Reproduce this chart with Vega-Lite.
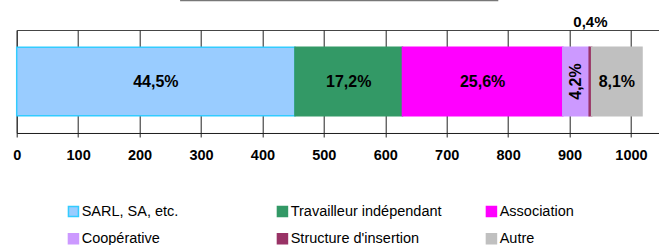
{
  "$schema": "https://vega.github.io/schema/vega-lite/v6.json",
  "width": 645,
  "height": 103,
  "autosize": {"type": "none"},
  "padding": {"left": 16.7, "top": 30, "right": 0, "bottom": 112},
  "background": "white",
  "config": {"view": {"stroke": "#444", "strokeWidth": 1}, "font": "Liberation Sans"},
  "data": {"values": [
    {"cat": "SARL, SA, etc.", "n": 453, "label": "44,5%", "ord": 1},
    {"cat": "Travailleur indépendant", "n": 175, "label": "17,2%", "ord": 2},
    {"cat": "Association", "n": 261, "label": "25,6%", "ord": 3},
    {"cat": "Coopérative", "n": 43, "label": "4,2%", "ord": 4},
    {"cat": "Structure d'insertion", "n": 4, "label": "0,4%", "ord": 5},
    {"cat": "Autre", "n": 82, "label": "8,1%", "ord": 6}
  ]},
  "resolve": {"scale": {"y": "independent"}},
  "layer": [
    {
      "transform": [
        {"stack": "n", "groupby": [], "sort": [{"field": "ord", "order": "ascending"}], "as": ["x0", "x1"]},
        {"calculate": "(datum.x0 + datum.x1) / 2", "as": "xm"},
        {"calculate": "'all'", "as": "row"}
      ],
      "layer": [
        {
          "mark": {"type": "bar", "strokeWidth": 1.5},
          "encoding": {
            "x": {
              "field": "x0", "type": "quantitative",
              "scale": {"domain": [0, 1050], "nice": false, "zero": true},
              "axis": {
                "values": [0, 50, 100, 150, 200, 250, 300, 350, 400, 450, 500, 550, 600, 650, 700, 750, 800, 850, 900, 950, 1000, 1050],
                "grid": true,
                "gridColor": {"condition": {"test": "datum.value % 100 === 0", "value": "#222"}, "value": "#cccccc"},
                "gridWidth": 1,
                "labelExpr": "datum.value % 100 === 0 ? datum.label : ''",
                "format": "d",
                "labelFont": "Liberation Sans",
                "labelFontWeight": "bold",
                "labelFontSize": 14.5,
                "labelColor": "#000",
                "labelFlush": false,
                "labelOverlap": false,
                "labelPadding": 12,
                "tickColor": "#222",
                "tickSize": 4,
                "domainColor": "#222",
                "title": null
              }
            },
            "x2": {"field": "x1"},
            "y": {"field": "row", "type": "nominal", "axis": null, "scale": {"paddingOuter": 0.25, "paddingInner": 0}},
            "fill": {
              "field": "cat", "type": "nominal",
              "scale": {
                "domain": ["SARL, SA, etc.", "Travailleur indépendant", "Association", "Coopérative", "Structure d'insertion", "Autre"],
                "range": ["#99CCFF", "#339966", "#FF00FF", "#CC99FF", "#993366", "#C0C0C0"]
              },
              "legend": {
                "orient": "none", "legendX": 49.5, "legendY": 174, "direction": "horizontal", "columns": 3,
                "title": null, "symbolType": "square", "symbolSize": 100, "symbolStrokeWidth": 1.5,
                "labelFontSize": 14.5, "labelFont": "Liberation Sans", "labelColor": "#000", "labelOffset": 1,
                "columnPadding": 41, "rowPadding": 10.5, "gridAlign": "all", "labelLimit": 300
              }
            },
            "stroke": {
              "field": "cat", "type": "nominal",
              "scale": {
                "domain": ["SARL, SA, etc.", "Travailleur indépendant", "Association", "Coopérative", "Structure d'insertion", "Autre"],
                "range": ["#33CCFF", "#339966", "#FF00FF", "#CC99FF", "#993366", "#C0C0C0"]
              },
              "legend": {
                "orient": "none", "legendX": 49.5, "legendY": 174, "direction": "horizontal", "columns": 3,
                "title": null, "symbolType": "square", "symbolSize": 100, "symbolStrokeWidth": 1.5,
                "labelFontSize": 14.5, "labelFont": "Liberation Sans", "labelColor": "#000", "labelOffset": 1,
                "columnPadding": 41, "rowPadding": 10.5, "gridAlign": "all", "labelLimit": 300
              }
            }
          }
        },
        {
          "transform": [{"filter": "datum.cat !== 'Coopérative' && datum.cat !== \"Structure d'insertion\""}],
          "mark": {"type": "text", "fontWeight": "bold", "fontSize": 16, "color": "#000", "font": "Liberation Sans"},
          "encoding": {
            "x": {"field": "xm", "type": "quantitative"},
            "y": {"field": "row", "type": "nominal"},
            "text": {"field": "label"}
          }
        },
        {
          "transform": [{"filter": "datum.cat === 'Coopérative'"}],
          "mark": {"type": "text", "fontWeight": "bold", "fontSize": 16, "color": "#000", "angle": 270, "font": "Liberation Sans"},
          "encoding": {
            "x": {"field": "xm", "type": "quantitative"},
            "y": {"field": "row", "type": "nominal"},
            "text": {"field": "label"}
          }
        },
        {
          "transform": [{"filter": "datum.cat === \"Structure d'insertion\""}],
          "mark": {"type": "text", "fontWeight": "bold", "fontSize": 15, "color": "#000", "dy": -60, "font": "Liberation Sans"},
          "encoding": {
            "x": {"field": "xm", "type": "quantitative"},
            "y": {"field": "row", "type": "nominal"},
            "text": {"field": "label"}
          }
        }
      ]
    },
    {
      "data": {"values": [{"a": 266, "b": 784, "h": 132.5}]},
      "mark": {"type": "rule", "color": "#777", "strokeWidth": 1.5},
      "encoding": {
        "x": {"field": "a", "type": "quantitative"},
        "x2": {"field": "b"},
        "y": {"field": "h", "type": "quantitative", "scale": {"domain": [0, 103], "nice": false, "zero": false}, "axis": null}
      }
    }
  ]
}
